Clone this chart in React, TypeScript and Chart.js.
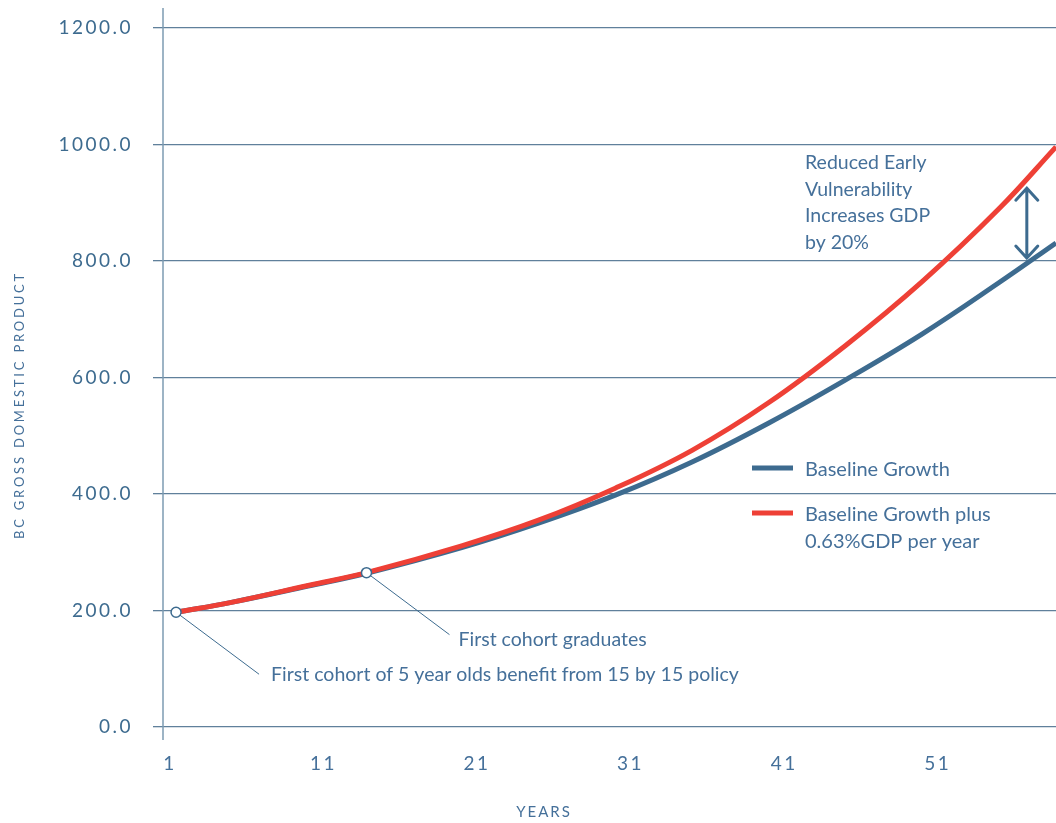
import { useEffect, useRef } from 'react';
import { Chart, registerables } from 'chart.js';

Chart.register(...registerables);

// Projection years (x) and GDP values for each scenario
const YEARS = [1.4, 5, 10, 13.8, 20, 25, 30, 35, 40, 45, 50, 55, 58.7];
const BASELINE = [197, 214, 242, 264, 308, 350, 398, 455, 522, 596, 675, 763, 831];
const WITH_INVESTMENT = [197, 214, 243, 265, 311, 355, 410, 475, 557, 655, 765, 890, 996];

const X_TICKS = [1, 11, 21, 31, 41, 51];
const Y_TICKS = [0, 200, 400, 600, 800, 1000, 1200];

const SERIES_NAMES = [['Baseline Growth'], ['Baseline Growth plus', '0.63%GDP per year']];

// Milestones marked on the curves (index into YEARS)
const MILESTONE_INDEX = [0, 3];
const MILESTONE_TEXT = [
  'First cohort of 5 year olds benefit from 15 by 15 policy',
  'First cohort graduates',
];

// Gap arrow between the two scenarios
const GAP_YEAR = 56.8;
const GAP_RANGE = [805, 925];
const GAP_NOTE = ['Reduced Early', 'Vulnerability', 'Increases GDP', 'by 20%'];

const BLUE = '#3d6b8f';
const RED = '#ee4036';
const TEXT = '#45709a';
const GRID = '#60809b';
const FONT = 'Lato, "Noto Sans", sans-serif';

const overlay = {
  id: 'overlay',
  beforeDraw(chart: any) {
    chart.ctx.letterSpacing = '2.5px';
  },
  beforeDatasetsDraw(chart: any) {
    const ctx = chart.ctx;
    ctx.letterSpacing = '0px';
    const xs = chart.scales.x;
    const ys = chart.scales.y;
    const offsets = [
      [83, 62],
      [83, 62],
    ];
    ctx.save();
    ctx.strokeStyle = BLUE;
    ctx.lineWidth = 1;
    MILESTONE_INDEX.forEach((idx, i) => {
      const px = xs.getPixelForValue(YEARS[idx]);
      const py = ys.getPixelForValue(WITH_INVESTMENT[idx]);
      ctx.beginPath();
      ctx.moveTo(px, py);
      ctx.lineTo(px + offsets[i][0], py + offsets[i][1]);
      ctx.stroke();
    });
    ctx.restore();
  },
  afterDraw(chart: any) {
    const ctx = chart.ctx;
    const xs = chart.scales.x;
    const ys = chart.scales.y;
    const area = chart.chartArea;
    ctx.save();
    ctx.letterSpacing = '0px';

    // vertical axis line
    ctx.strokeStyle = '#7d9bb2';
    ctx.lineWidth = 1.5;
    ctx.beginPath();
    ctx.moveTo(area.left, 8);
    ctx.lineTo(area.left, 740);
    ctx.stroke();

    // axis titles
    ctx.fillStyle = TEXT;
    ctx.textAlign = 'center';
    ctx.textBaseline = 'middle';
    ctx.font = `13px ${FONT}`;
    ctx.letterSpacing = '2.8px';
    ctx.save();
    ctx.translate(20, 405);
    ctx.rotate(-Math.PI / 2);
    ctx.fillText('BC GROSS DOMESTIC PRODUCT', 0, 0);
    ctx.restore();
    ctx.font = `15px ${FONT}`;
    ctx.letterSpacing = '2px';
    ctx.fillText('YEARS', 544, 812);
    ctx.letterSpacing = '0px';

    // milestone captions
    const textOffsets = [
      [95, 69],
      [92, 73],
    ];
    ctx.font = `19.5px ${FONT}`;
    ctx.textAlign = 'left';
    ctx.textBaseline = 'alphabetic';
    MILESTONE_INDEX.forEach((idx, i) => {
      const px = xs.getPixelForValue(YEARS[idx]);
      const py = ys.getPixelForValue(WITH_INVESTMENT[idx]);
      ctx.fillText(MILESTONE_TEXT[i], px + textOffsets[i][0], py + textOffsets[i][1]);
    });

    // gap arrow
    const ax = xs.getPixelForValue(GAP_YEAR);
    const aTop = ys.getPixelForValue(GAP_RANGE[1]);
    const aBot = ys.getPixelForValue(GAP_RANGE[0]);
    ctx.strokeStyle = BLUE;
    ctx.lineWidth = 3;
    ctx.lineCap = 'round';
    ctx.lineJoin = 'miter';
    ctx.beginPath();
    ctx.moveTo(ax, aTop);
    ctx.lineTo(ax, aBot);
    ctx.moveTo(ax - 11, aTop + 12);
    ctx.lineTo(ax, aTop);
    ctx.lineTo(ax + 11, aTop + 12);
    ctx.moveTo(ax - 11, aBot - 12);
    ctx.lineTo(ax, aBot);
    ctx.lineTo(ax + 11, aBot - 12);
    ctx.stroke();

    // gap note
    ctx.font = `19.5px ${FONT}`;
    GAP_NOTE.forEach((line, i) => {
      ctx.fillText(line, 805, 169 + i * 26.5);
    });

    // legend
    const colors = [BLUE, RED];
    const rows = [468, 513];
    ctx.lineCap = 'butt';
    ctx.lineWidth = 5;
    ctx.font = `20px ${FONT}`;
    SERIES_NAMES.forEach((lines, i) => {
      ctx.strokeStyle = colors[i];
      ctx.beginPath();
      ctx.moveTo(752, rows[i]);
      ctx.lineTo(793, rows[i]);
      ctx.stroke();
      lines.forEach((t, j) => {
        ctx.fillText(t, 805, rows[i] + 8 + j * 27);
      });
    });
    ctx.restore();
  },
};

export default function App() {
  const ref = useRef<HTMLCanvasElement>(null);

  useEffect(() => {
    if (!ref.current) return;
    const chart = new Chart(ref.current, {
      type: 'line',
      data: {
        datasets: [
          {
            label: 'Milestones',
            data: MILESTONE_INDEX.map((i) => ({ x: YEARS[i], y: WITH_INVESTMENT[i] })),
            showLine: false,
            pointRadius: 5,
            pointBackgroundColor: '#ffffff',
            pointBorderColor: BLUE,
            pointBorderWidth: 1.5,
          },
          {
            label: SERIES_NAMES[1].join(' '),
            data: YEARS.map((x, i) => ({ x, y: WITH_INVESTMENT[i] })),
            borderColor: RED,
            borderWidth: 5,
            pointRadius: 0,
            tension: 0.4,
          },
          {
            label: SERIES_NAMES[0].join(' '),
            data: YEARS.map((x, i) => ({ x, y: BASELINE[i] })),
            borderColor: BLUE,
            borderWidth: 5,
            pointRadius: 0,
            tension: 0.4,
          },
        ],
      },
      options: {
        animation: false,
        responsive: true,
        maintainAspectRatio: false,
        layout: { autoPadding: false, padding: { top: 28, left: 0, right: 0, bottom: 0 } },
        plugins: { legend: { display: false }, tooltip: { enabled: false } },
        scales: {
          x: {
            type: 'linear',
            min: 0.55,
            max: 58.7,
            afterBuildTicks: (scale: any) => {
              scale.ticks = X_TICKS.map((value) => ({ value }));
            },
            afterFit: (scale: any) => {
              scale.height = 96;
              scale.paddingLeft = 0;
              scale.paddingRight = 0;
            },
            grid: { display: false, drawTicks: false },
            border: { display: false },
            ticks: {
              color: TEXT,
              font: { family: FONT, size: 19 },
              padding: 25,
              autoSkip: false,
              maxRotation: 0,
              callback: (v: any) => String(v),
            },
          },
          y: {
            type: 'linear',
            min: 0,
            max: 1200,
            afterBuildTicks: (scale: any) => {
              scale.ticks = Y_TICKS.map((value) => ({ value }));
            },
            afterFit: (scale: any) => {
              scale.width = 163;
              scale.paddingTop = 0;
              scale.paddingBottom = 0;
            },
            grid: {
              color: GRID,
              lineWidth: 1.3,
              drawTicks: true,
              tickLength: 10,
              tickColor: GRID,
            },
            border: { display: false },
            ticks: {
              color: BLUE,
              font: { family: FONT, size: 19 },
              padding: 20,
              callback: (v: any) => Number(v).toFixed(1),
            },
          },
        },
      },
      plugins: [overlay],
    });
    return () => chart.destroy();
  }, []);

  return (
    <div style={{ position: 'absolute', left: 0, top: 0, width: 1056, height: 823 }}>
      <canvas ref={ref} />
    </div>
  );
}
